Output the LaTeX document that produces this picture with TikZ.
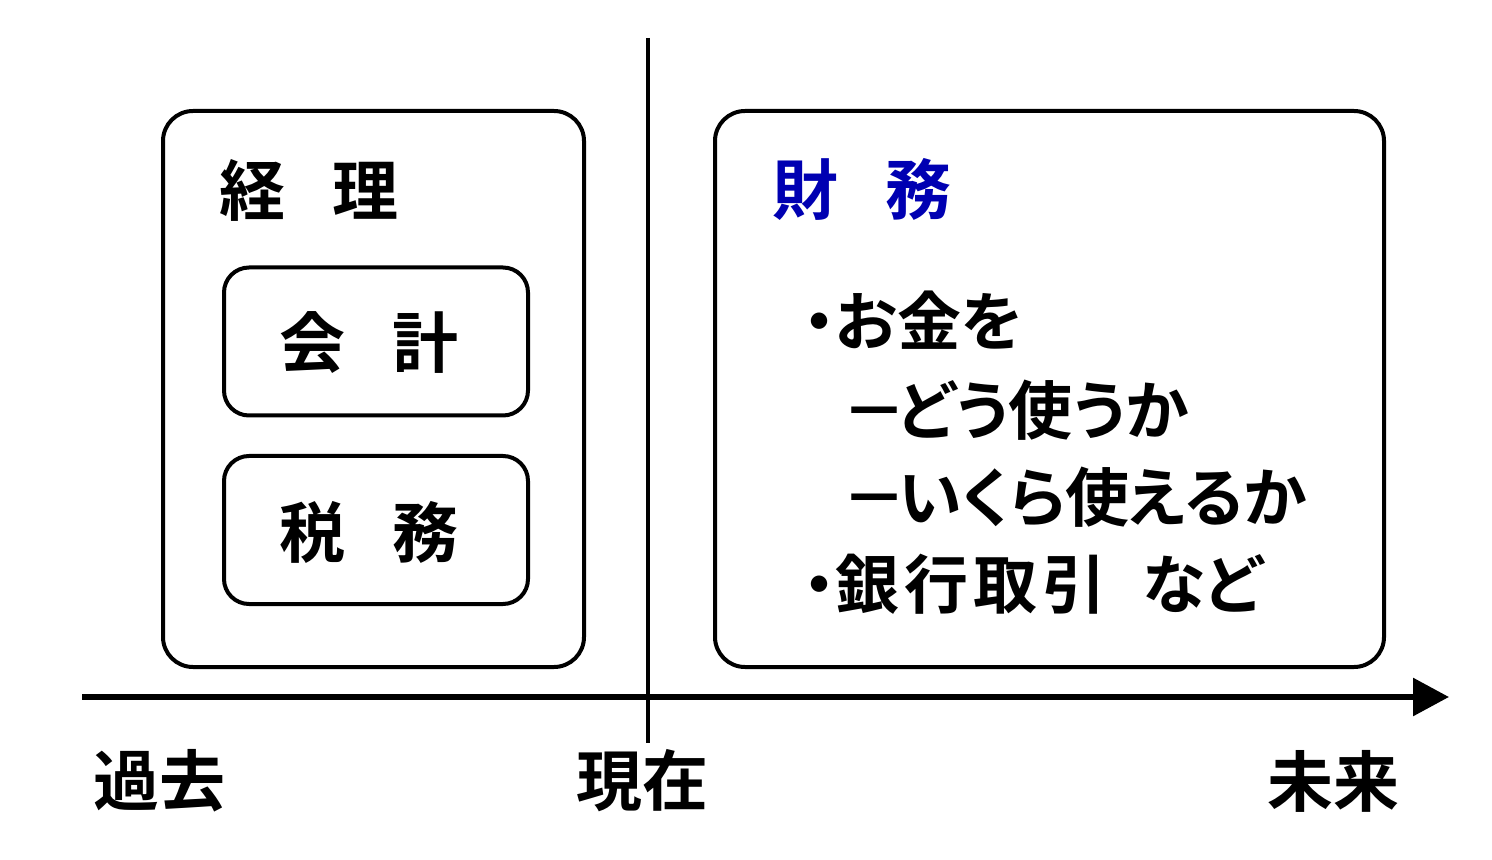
\documentclass[tikz,border=0pt]{standalone}
\usepackage{fontspec}
\setmainfont{Noto Sans CJK JP}[UprightFont=* Bold]
\newfontfamily\listfont{Noto Sans CJK JP}[UprightFont=* Bold, RawFeature=+palt]
\usetikzlibrary{arrows.meta}
\definecolor{zblue}{RGB}{0,0,178}
\begin{document}
\begin{tikzpicture}[x=0.5pt,y=-0.5pt,
  box/.style={draw=black, line width=2pt, rounded corners=15pt, inner sep=0pt},
  subbox/.style={draw=black, line width=2pt, rounded corners=12.5pt, inner sep=0pt,
    minimum width=152pt, minimum height=74pt},
  title/.style={inner sep=0pt, font=\fontsize{33pt}{36pt}\selectfont},
  item/.style={inner sep=0pt, anchor=west, font=\listfont\fontsize{32pt}{36pt}\selectfont},
  axis/.style={line width=3pt, -{Triangle[length=18pt,width=18.5pt]}},
  nowline/.style={line width=2pt}]
\path[use as bounding box, fill=white] (0,0) rectangle (1492,860);

% boxes
\node[box, minimum width=210.5pt, minimum height=278pt] (keiribox) at (373.5,389) {};
\node[subbox] (kaikeibox) at (376,341.5) {};
\node[subbox] (zeimubox) at (376,530) {};
\node[box, minimum width=334.5pt, minimum height=278pt] (zaimubox) at (1049.5,389) {};

% titles
\node[title] (keiri) at (309,190) {経\hspace{24pt}理};
\node[title] (kaikei) at (369,343) {会\hspace{24pt}計};
\node[title] (zeimu) at (369,532) {税\hspace{24pt}務};
\node[title, text=zblue] (zaimu) at (862,189) {財\hspace{24pt}務};

% list
\node[item] (l1) at (803,320) {・お金を};
\node[item] (l2) at (842,410) {－\hspace{-4pt}どう使うか};
\node[item] (l3) at (842,497) {－\hspace{-4pt}いくら使えるか};
\node[item] (l4) at (803,584) {・銀\hspace{2.5pt}行\hspace{2.5pt}取\hspace{2.5pt}引\hspace{18pt}など};

% axes
\coordinate (v0) at (648,38);
\coordinate (v1) at (648,743);
\draw[nowline] (v0) -- (v1);
\coordinate (a0) at (82,697);
\coordinate (a1) at (1449,697);
\draw[axis] (a0) -- (a1);

% time labels
\node[title] (kako) at (159.5,781) {過去};
\node[title] (genzai) at (642,781) {現在};
\node[title] (mirai) at (1333,781) {未来};
\end{tikzpicture}
\end{document}
